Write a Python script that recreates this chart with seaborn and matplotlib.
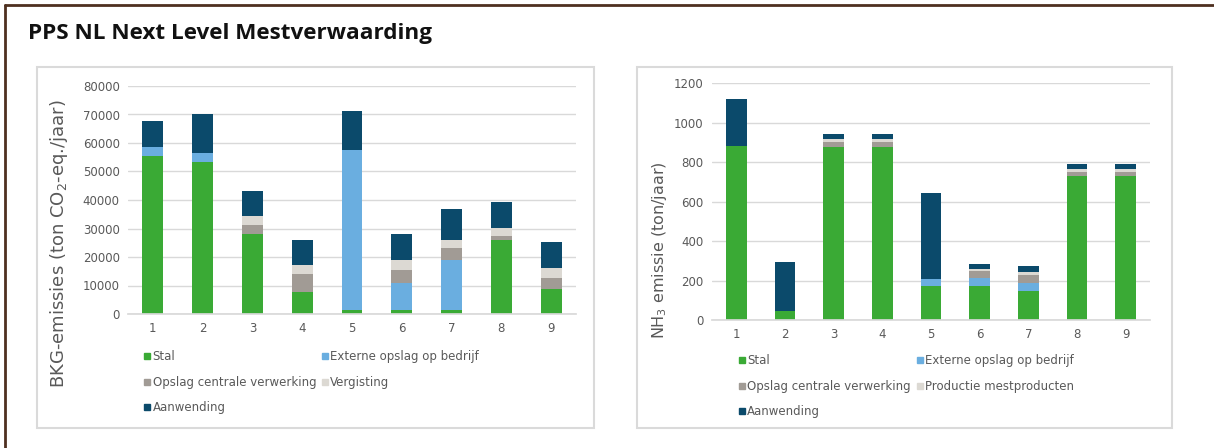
import pandas as pd
import matplotlib
matplotlib.use("Agg")
import matplotlib.pyplot as plt
from matplotlib.patches import Rectangle
from matplotlib.lines import Line2D
import seaborn as sns

# --- data ---
scenarios = ["1", "2", "3", "4", "5", "6", "7", "8", "9"]

# BKG (ton CO2-eq./jaar)
bkg_stal = [55300, 53200, 28200, 7800, 1400, 1400, 1400, 25800, 8800]
bkg_extern = [3400, 3300, 0, 0, 56100, 9500, 17500, 0, 0]
bkg_opslag = [0, 0, 3200, 6100, 0, 4500, 4400, 1600, 4000]
bkg_vergisting = [0, 0, 2900, 3200, 0, 3500, 2500, 2800, 3200]
bkg_aanwending = [9100, 13600, 8800, 9000, 13700, 9000, 10900, 9000, 9300]

# NH3 (ton/jaar)
nh3_stal = [880, 45, 878, 878, 173, 173, 149, 729, 729]
nh3_extern = [0, 0, 0, 0, 34, 39, 37, 0, 0]
nh3_opslag = [0, 0, 24, 24, 0, 34, 43, 22, 22]
nh3_productie = [0, 0, 13, 13, 0, 12, 13, 12, 12]
nh3_aanwending = [240, 250, 29, 29, 434, 27, 33, 29, 29]

C_STAL = "#3aaa35"
C_EXT = "#6aaee0"
C_OPSLAG = "#a19b95"
C_LIGHT = "#dcd9d3"
C_AANW = "#0b4a6b"
TXT = "#595959"

sns.set_theme(style="white")
plt.rcParams["font.family"] = ["DejaVu Sans"]


def stacked(ax, layers, colors, labels, leg_anchor):
    df = pd.DataFrame({"scenario": scenarios})
    cum = [0] * len(scenarios)
    tops = []
    for vals in layers:
        cum = [c + v for c, v in zip(cum, vals)]
        tops.append(list(cum))
    # draw from the top layer down so each lower layer covers the one above
    for top, col in reversed(list(zip(tops, colors))):
        df["v"] = top
        sns.barplot(data=df, x="scenario", y="v", color=col, width=0.42,
                    saturation=1, ax=ax, linewidth=0)
    ax.set_xlabel("")
    ax.grid(axis="y", color="#d9d9d9", linewidth=1)
    ax.set_axisbelow(True)
    for s in ["left", "right", "top"]:
        ax.spines[s].set_visible(False)
    ax.spines["bottom"].set_color("#d9d9d9")
    ax.tick_params(axis="both", colors=TXT, labelsize=8.5, length=0, pad=6)
    # legend: two columns filled column-wise
    h = [Line2D([], [], marker="s", linestyle="", markersize=5,
                color=c) for c in colors]
    order = [0, 2, 4, 1, 3]
    ax.legend([h[i] for i in order], [labels[i] for i in order], ncol=2,
              loc="upper left", bbox_to_anchor=leg_anchor, frameon=False,
              fontsize=8.5, labelcolor=TXT, handlelength=0.6,
              handletextpad=0.15, columnspacing=0.45, labelspacing=1.05,
              borderaxespad=0, borderpad=0)


fig = plt.figure(figsize=(12.14, 4.48), dpi=100)
W, H = 1214, 448

# outer frame (only top and left edge visible in the crop) and title
fig.add_artist(Line2D([5 / W, 1], [1 - 5 / H, 1 - 5 / H], transform=fig.transFigure,
                      color="#4e3020", linewidth=2))
fig.add_artist(Line2D([5 / W, 5 / W], [0, 1 - 5 / H], transform=fig.transFigure,
                      color="#4e3020", linewidth=2))
fig.text(28 / W, 1 - 33 / H, "PPS NL Next Level Mestverwaarding", fontsize=16.2,
         fontweight="bold", family="Open Sans", va="center", color="#111111")

# panel boxes
for x0, x1 in [(37, 594), (637, 1172)]:
    fig.add_artist(Rectangle((x0 / W, 1 - 428 / H), (x1 - x0) / W, (428 - 67) / H,
                             transform=fig.transFigure, fill=False,
                             edgecolor="#dadada", linewidth=1.5))

ax1 = fig.add_axes([128 / W, 1 - 314 / H, 448 / W, 228 / H])
stacked(ax1, [bkg_stal, bkg_extern, bkg_opslag, bkg_vergisting, bkg_aanwending],
        [C_STAL, C_EXT, C_OPSLAG, C_LIGHT, C_AANW],
        ["Stal", "Externe opslag op bedrijf", "Opslag centrale verwerking",
         "Vergisting", "Aanwending"], (0.035, -0.16))
ax1.set_ylim(0, 80000)
ax1.set_yticks(range(0, 80001, 10000))
ax1.set_ylabel("BKG-emissies (ton CO$_2$-eq./jaar)", color=TXT, fontsize=13)
ax1.yaxis.set_label_coords(-0.129, 0.31)

ax2 = fig.add_axes([712 / W, 1 - 320 / H, 438 / W, 237 / H])
stacked(ax2, [nh3_stal, nh3_extern, nh3_opslag, nh3_productie, nh3_aanwending],
        [C_STAL, C_EXT, C_OPSLAG, C_LIGHT, C_AANW],
        ["Stal", "Externe opslag op bedrijf", "Opslag centrale verwerking",
         "Productie mestproducten", "Aanwending"], (0.06, -0.145))
ax2.set_ylim(0, 1200)
ax2.set_yticks(range(0, 1201, 200))
ax2.set_ylabel("NH$_3$ emissie (ton/jaar)", color=TXT, fontsize=11.5)
ax2.yaxis.set_label_coords(-0.098, 0.295)

fig.savefig("out.png", dpi=100)
